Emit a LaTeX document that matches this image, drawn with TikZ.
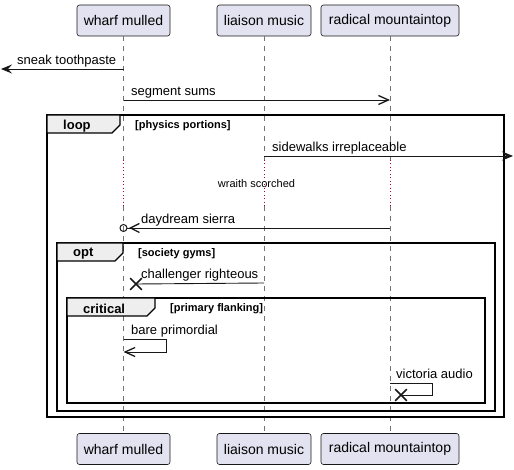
\documentclass[tikz,border=0pt]{standalone}
\usepackage{fontspec}
\setmainfont{Liberation Sans}
\usetikzlibrary{arrows.meta, shapes.misc}
\definecolor{partfill}{HTML}{E2E2F0}
\definecolor{partline}{HTML}{181818}
\definecolor{tabfill}{HTML}{EEEEEE}
\definecolor{msgline}{HTML}{181818}
\definecolor{delaydot}{HTML}{A80036}
\tikzset{
  part/.style={draw=partline, fill=partfill, rounded corners=2.5pt, line width=0.6pt,
    minimum height=31pt, inner xsep=0pt, font=\fontsize{14}{16}\selectfont},
  life/.style={black!55, dash pattern=on 5pt off 5pt, line width=0.6pt},
  delay/.style={delaydot, dash pattern=on 1pt off 2.5pt, line width=0.8pt},
  msg/.style={msgline, line width=0.9pt},
  msglabel/.style={font=\fontsize{13}{15}\selectfont, inner sep=0pt, anchor=base west},
  framebox/.style={black, line width=1.5pt},
  framelabel/.style={font=\bfseries\fontsize{13}{15}\selectfont, inner sep=0pt, anchor=west},
  guardlabel/.style={font=\bfseries\fontsize{11}{13}\selectfont, inner sep=0pt, anchor=west},
  xmark/.style={cross out, draw=msgline, line width=1.6pt, minimum size=10pt, inner sep=0pt},
}
\newcommand{\sqframe}[8]{%
  \draw[framebox] (#2,#3) rectangle (#4,#5);
  % tab with the cut corner, then kind and guard
  \draw[framebox, line width=1.2pt, fill=tabfill] (#2,#3) -- ({#2+#6},#3) -- ({#2+#6},{#3+10})
    -- ({#2+#6-8},{#3+18}) -- (#2,{#3+18}) -- cycle;
  \node[framelabel] (#1-kind) at ({#2+16},{#3+11}) {#7};
  \node[guardlabel] (#1-guard) at ({#2+#6+15},{#3+10.5}) {[#8]};
}

\begin{document}
\begin{tikzpicture}[x=1pt, y=-1pt]
  \useasboundingbox (0,0) rectangle (514,470);
  \foreach \n/\x/\w/\t in {wharf/123.5/93/wharf mulled, liaison/264/94/liaison music,
      radical/390/138/radical mountaintop} {
    \node[part, minimum width=\w pt] (\n) at (\x,20.5) {\t};
    \node[part, minimum width=\w pt] (\n-b) at (\x,449) {\t};
  }
  \foreach \n in {wharf, liaison, radical} {
    \coordinate (\n-d1) at (\n |- 0,160);
    \coordinate (\n-d2) at (\n |- 0,206);
    \draw[life] (\n.south) -- (\n-d1);
    \draw[delay] (\n-d1) -- (\n-d2);
    \draw[life] (\n-d2) -- (\n-b.north);
  }
  \foreach \r/\y in {m1/69, m2/100, m3/156, m5/228, m6/283, m7/339, m7b/352, m8/383}
    \coordinate (\r) at (0,\y);
  \coordinate (lost-l) at (1,69);
  \coordinate (lost-r) at (513,156);

  \sqframe{loop}{47}{115}{504}{417}{73}{loop}{physics portions}
  \sqframe{opt}{57}{243}{495}{411}{66}{opt}{society gyms}
  \sqframe{crit}{67}{298}{485}{403}{88}{critical}{primary flanking}

  \draw[msg, -{Stealth[length=11pt, width=9pt, inset=4pt]}] (wharf |- m1) -- (lost-l);
  \node[msglabel] (sneak) at (17,64.5) {sneak toothpaste};
  \draw[msg, -{Straight Barb[length=10pt, width=9pt, line width=1.3pt]}] (wharf |- m2) -- (radical |- m2);
  \node[msglabel] (segment) at (131,95.5) {segment sums};
  \draw[msg, -{Stealth[length=11pt, width=9pt, inset=4pt]}] (liaison |- m3) -- (lost-r);
  \node[msglabel] (sidewalks) at (272,151.5) {sidewalks irreplaceable};
  \node[font=\fontsize{11}{13}\selectfont, inner sep=0pt] (wraith) at (256.5,184) {wraith scorched};
  \draw[msg, -{Straight Barb[length=9pt, width=9pt, line width=1.3pt, sep=1.5pt]
      Circle[open, length=8pt, width=8pt, line width=1pt]},
    shorten >=-4pt] (radical |- m5) -- (wharf |- m5);
  \node[msglabel] (daydream) at (141,223.5) {daydream sierra};
  \node[xmark] (m6-x) at (136,284) {};
  \draw[msg] (liaison |- m6) -- (m6-x.center);
  \node[msglabel] (challenger) at (141,278.5) {challenger righteous};
  \draw[msg, -{Straight Barb[length=10pt, width=9pt, line width=1.3pt]}] (wharf |- m7) -- ++(43,0)
    -- ++(0,13) -- (wharf |- m7b);
  \node[msglabel] (bare) at (131,334.5) {bare primordial};
  \node[xmark] (m8-x) at (401,395) {};
  \draw[msg] (radical |- m8) -- ++(42,0) -- ++(0,12) -- (m8-x.center);
  \node[msglabel] (victoria) at (396,378.5) {victoria audio};
\end{tikzpicture}
\end{document}
